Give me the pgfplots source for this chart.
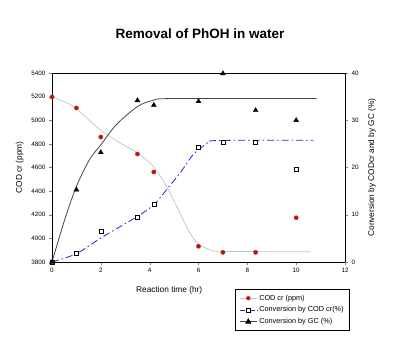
\documentclass[border=0pt]{standalone}
\usepackage{pgfplots}
\pgfplotsset{compat=1.18}
\usepackage{fontspec}
\setmainfont{Liberation Sans}
\definecolor{codred}{RGB}{230,0,0}
\definecolor{fitgray}{RGB}{195,195,195}
\definecolor{fitblue}{RGB}{30,30,240}
\definecolor{fitblack}{RGB}{70,70,70}
\begin{document}
\begin{tikzpicture}
\useasboundingbox (0,0) rectangle (401pt,351pt);
\begin{axis}[
  at={(52pt,89pt)}, anchor=south west,
  scale only axis, width=293pt, height=189pt,
  xmin=0, xmax=12, ymin=3800, ymax=5400,
  xtick={0,2,...,12}, ytick={3800,4000,...,5400},
  xtick pos=bottom, ytick pos=left,
  tick align=outside, major tick length=3pt,
  tick label style={font=\fontsize{6.3}{7}\selectfont},
  /pgf/number format/assume math mode=true,
  /pgf/number format/1000 sep={},
  xlabel={Reaction time (hr)},
  xlabel style={font=\fontsize{8.3}{9}\selectfont, at={(axis description cs:0.40,-0.148)}, anchor=center},
  ylabel={COD cr (ppm)},
  ylabel style={font=\fontsize{8.3}{9}\selectfont, at={(axis description cs:-0.11,0.5)}, anchor=center},
  title={\bfseries Removal of PhOH in water},
  title style={font=\fontsize{13.5}{15}\selectfont, at={(axis description cs:0.505,1.175)}, anchor=center},
  clip=false,
  axis line style={black, line width=0.6pt},
]
\addplot[fitgray, line width=0.7pt, smooth, tension=0.5] coordinates {
(0,5197)(0.86,5118)(2.0,4915)(2.91,4793)(3.5,4723)(4.17,4604)(4.69,4441)(5.24,4215)(5.65,4045)(6.0,3952)(6.47,3904)(7.01,3890)(10.6,3887)};
\addplot[only marks, mark=*, mark size=2.2pt, mark options={fill=codred, draw=black!60, line width=0.3pt}] coordinates {
(0,5197)(1,5104)(2,4858)(3.5,4714)(4.17,4562)(6,3933)(7,3882)(8.34,3882)(10,4175)};
\end{axis}
\begin{axis}[
  at={(52pt,89pt)}, anchor=south west,
  scale only axis, width=293pt, height=189pt,
  xmin=0, xmax=12, ymin=0, ymax=40,
  axis x line=none, axis y line*=right,
  ytick={0,10,...,40},
  tick align=outside, major tick length=3pt,
  tick label style={font=\fontsize{6.3}{7}\selectfont},
  /pgf/number format/assume math mode=true,
  ylabel={Conversion by CODcr and by GC (\%)},
  ylabel style={font=\fontsize{8.3}{9}\selectfont, at={(axis description cs:1.092,0.5)}, anchor=center},
  clip=false,
  axis line style={black, line width=0.6pt},
  legend style={at={(axis description cs:0.625,-0.143)}, anchor=north west,
    font=\fontsize{7.3}{8}\selectfont, draw=black, line width=0.5pt,
    inner xsep=4pt, inner ysep=3.5pt, row sep=1pt, cells={anchor=west}},
  legend cell align=left,
]
\addlegendimage{fitgray, line width=0.7pt, mark=*, mark size=2pt, mark options={fill=codred, draw=black!60, line width=0.3pt}}
\addlegendentry{COD cr (ppm)}
\addplot[fitblue, line width=0.8pt, dash pattern=on 7pt off 3pt on 1.5pt off 3pt, smooth, tension=0.5, forget plot] coordinates {
(0,0)(1,1.76)(2,5.08)(3.5,9.67)(4.17,12.13)(4.69,15.3)(5.24,18.8)(5.78,22.7)(6.33,25.0)(6.74,25.7)(10.7,25.75)};
\addplot[fitblack, line width=0.8pt, smooth, tension=0.5, forget plot] coordinates {
(0,0)(0.52,8.96)(1,16.0)(1.54,21.7)(2,24.8)(2.64,29.1)(3.5,32.9)(4.14,34.2)(4.96,34.6)(10.84,34.6)};
\addplot[only marks, mark=square*, mark size=2pt, mark options={fill=white, draw=black, line width=0.5pt}, forget plot] coordinates {
(0,0)(1,1.9)(2,6.6)(3.5,9.5)(4.17,12.3)(6,24.3)(7,25.4)(8.34,25.4)(10,19.7)};
\addplot[only marks, mark=triangle*, mark size=2.8pt, mark options={fill=black, draw=black}, forget plot] coordinates {
(0,0)(1,15.3)(2,23.2)(3.5,34.2)(4.17,33.2)(6,34.0)(7,39.9)(8.34,32.1)(10,30.0)};
\addlegendimage{fitblue, line width=0.8pt, dash pattern=on 5pt off 2pt on 1pt off 2pt, mark=square*, mark size=2pt, mark options={fill=white, draw=black, solid, line width=0.5pt}}
\addlegendentry{Conversion by COD cr(\%)}
\addlegendimage{fitblack, line width=0.8pt, mark=triangle*, mark size=2.8pt, mark options={fill=black, draw=black}}
\addlegendentry{Conversion by GC (\%)}
\end{axis}
\end{tikzpicture}
\end{document}
